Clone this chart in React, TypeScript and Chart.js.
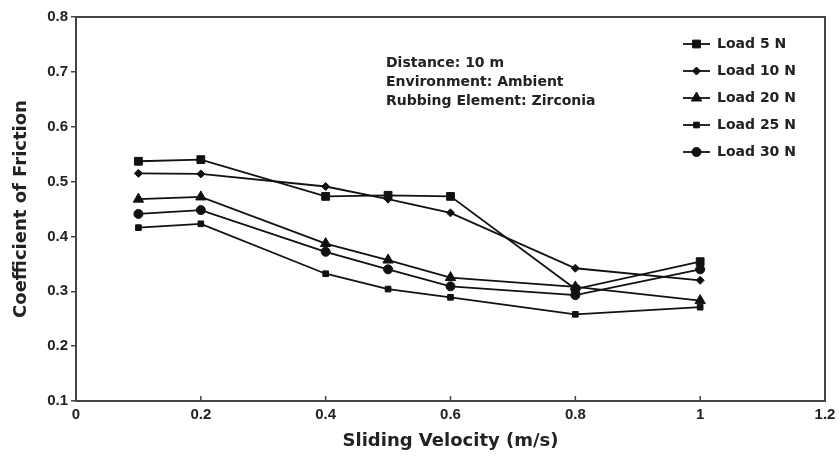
import React, { useEffect, useRef } from "react";
import { Chart, registerables } from "chart.js";

Chart.register(...registerables);

const velocities = [0.1, 0.2, 0.4, 0.5, 0.6, 0.8, 1.0];
const load5 = [0.537, 0.540, 0.473, 0.475, 0.473, 0.304, 0.354];
const load10 = [0.515, 0.514, 0.491, 0.468, 0.443, 0.342, 0.320];
const load20 = [0.468, 0.472, 0.387, 0.357, 0.325, 0.308, 0.283];
const load25 = [0.416, 0.423, 0.332, 0.304, 0.289, 0.258, 0.271];
const load30 = [0.441, 0.448, 0.372, 0.340, 0.309, 0.293, 0.340];
const seriesNames = ["Load 5 N", "Load 10 N", "Load 20 N", "Load 25 N", "Load 30 N"];
const infoLines = ["Distance: 10 m", "Environment: Ambient", "Rubbing Element: Zirconia"];
const yTicks = [0.1, 0.2, 0.3, 0.4, 0.5, 0.6, 0.7, 0.8];
const xTicks = [0, 0.2, 0.4, 0.6, 0.8, 1, 1.2];

const FONT = "'DejaVu Sans', 'Liberation Sans', Arial, sans-serif";
const TICK_FONT = "'Liberation Sans', Arial, sans-serif";

function marker(c: CanvasRenderingContext2D, ps: string, r: number, x: number, y: number) {
  c.beginPath();
  if (ps === "rect") {
    const s = r * Math.SQRT1_2 * 2;
    c.rect(x - s / 2, y - s / 2, s, s);
  } else if (ps === "rectRot") {
    c.moveTo(x, y - r);
    c.lineTo(x + r, y);
    c.lineTo(x, y + r);
    c.lineTo(x - r, y);
    c.closePath();
  } else if (ps === "triangle") {
    c.moveTo(x, y - r);
    c.lineTo(x + r * 0.866, y + r * 0.5);
    c.lineTo(x - r * 0.866, y + r * 0.5);
    c.closePath();
  } else {
    c.arc(x, y, r, 0, Math.PI * 2);
  }
  c.fill();
  c.stroke();
}

export default function App() {
  const ref = useRef<HTMLCanvasElement | null>(null);
  useEffect(() => {
    document.body.style.margin = "0";
    const ctx = ref.current!.getContext("2d")!;
    const styles = [
      { ps: "rect", r: 5.5 },
      { ps: "rectRot", r: 4 },
      { ps: "triangle", r: 6 },
      { ps: "rect", r: 4 },
      { ps: "circle", r: 4.5 },
    ];
    const all = [load5, load10, load20, load25, load30];
    const datasets = all.map((arr, i) => ({
      label: seriesNames[i],
      data: velocities.map((v, j) => ({ x: v, y: arr[j] })),
      borderColor: "#111",
      backgroundColor: "#111",
      borderWidth: 1.8,
      pointStyle: styles[i].ps as any,
      pointRadius: styles[i].r,
      pointBorderWidth: 1,
      pointBackgroundColor: "#111",
      pointBorderColor: "#111",
      tension: 0,
    }));

    const framePlugin = {
      id: "frame",
      afterDraw(chart: any) {
        const c = chart.ctx as CanvasRenderingContext2D;
        const a = chart.chartArea;
        const xs = chart.scales.x;
        c.save();
        c.strokeStyle = "#444";
        c.lineWidth = 2;
        c.strokeRect(a.left, a.top, a.right - a.left, a.bottom - a.top);
        c.lineWidth = 1.5;
        xTicks.forEach((t) => {
          const px = xs.getPixelForValue(t);
          c.beginPath();
          c.moveTo(px, a.bottom);
          c.lineTo(px, a.bottom - 5);
          c.stroke();
        });
        c.fillStyle = "#222";
        c.font = `bold 14px ${FONT}`;
        c.textAlign = "left";
        c.textBaseline = "middle";
        infoLines.forEach((t, i) => c.fillText(t, 386, 63 + i * 19));
        chart.data.datasets.forEach((ds: any, i: number) => {
          const y = 44 + i * 27;
          c.strokeStyle = "#111";
          c.lineWidth = 1.8;
          c.beginPath();
          c.moveTo(683, y);
          c.lineTo(710, y);
          c.stroke();
          c.fillStyle = "#111";
          c.lineWidth = 1;
          marker(c, ds.pointStyle, ds.pointRadius, 696.5, y);
          c.fillStyle = "#222";
          c.font = `bold 14px ${FONT}`;
          c.textAlign = "left";
          c.fillText(ds.label, 717, y);
        });
        c.restore();
      },
    };

    const chart = new Chart(ctx, {
      type: "line",
      data: { datasets: datasets as any },
      options: {
        animation: false,
        responsive: false,
        maintainAspectRatio: false,
        layout: { padding: { top: 17, right: 14, left: 11, bottom: 0 } },
        plugins: { legend: { display: false }, tooltip: { enabled: false } },
        scales: {
          x: {
            type: "linear",
            min: 0,
            max: 1.2,
            afterBuildTicks(s: any) {
              s.ticks = xTicks.map((v) => ({ value: v }));
            },
            afterFit(s: any) {
              s.height = 55;
              s.paddingLeft = 0;
              s.paddingRight = 0;
            },
            grid: { display: false, drawTicks: false },
            border: { display: false },
            ticks: {
              padding: 5,
              color: "#222",
              font: { family: TICK_FONT, size: 15, weight: "bold" },
              maxRotation: 0,
              autoSkip: false,
              callback: (v: any) => String(Number(v)),
            },
            title: {
              display: true,
              text: "Sliding Velocity (m/s)",
              color: "#222",
              font: { family: FONT, size: 18, weight: "bold" },
              padding: { top: 6, bottom: 4 },
            },
          },
          y: {
            type: "linear",
            min: 0.1,
            max: 0.8,
            afterBuildTicks(s: any) {
              s.ticks = yTicks.map((v) => ({ value: v }));
            },
            afterFit(s: any) {
              s.width = 65;
              s.paddingTop = 0;
              s.paddingBottom = 0;
            },
            grid: { display: true, drawOnChartArea: false, drawTicks: true, tickLength: 5, color: "#444", lineWidth: 1.5 },
            border: { display: false },
            ticks: {
              padding: 3,
              color: "#222",
              font: { family: TICK_FONT, size: 15, weight: "bold" },
              callback: (v: any) => Number(v).toFixed(1),
            },
            title: {
              display: true,
              text: "Coefficient of Friction",
              color: "#222",
              font: { family: FONT, size: 18, weight: "bold" },
              padding: { top: 0, bottom: 0 },
            },
          },
        },
      },
      plugins: [framePlugin],
    });
    return () => chart.destroy();
  }, []);
  return <canvas ref={ref} width={839} height={456} style={{ display: "block" }} />;
}
